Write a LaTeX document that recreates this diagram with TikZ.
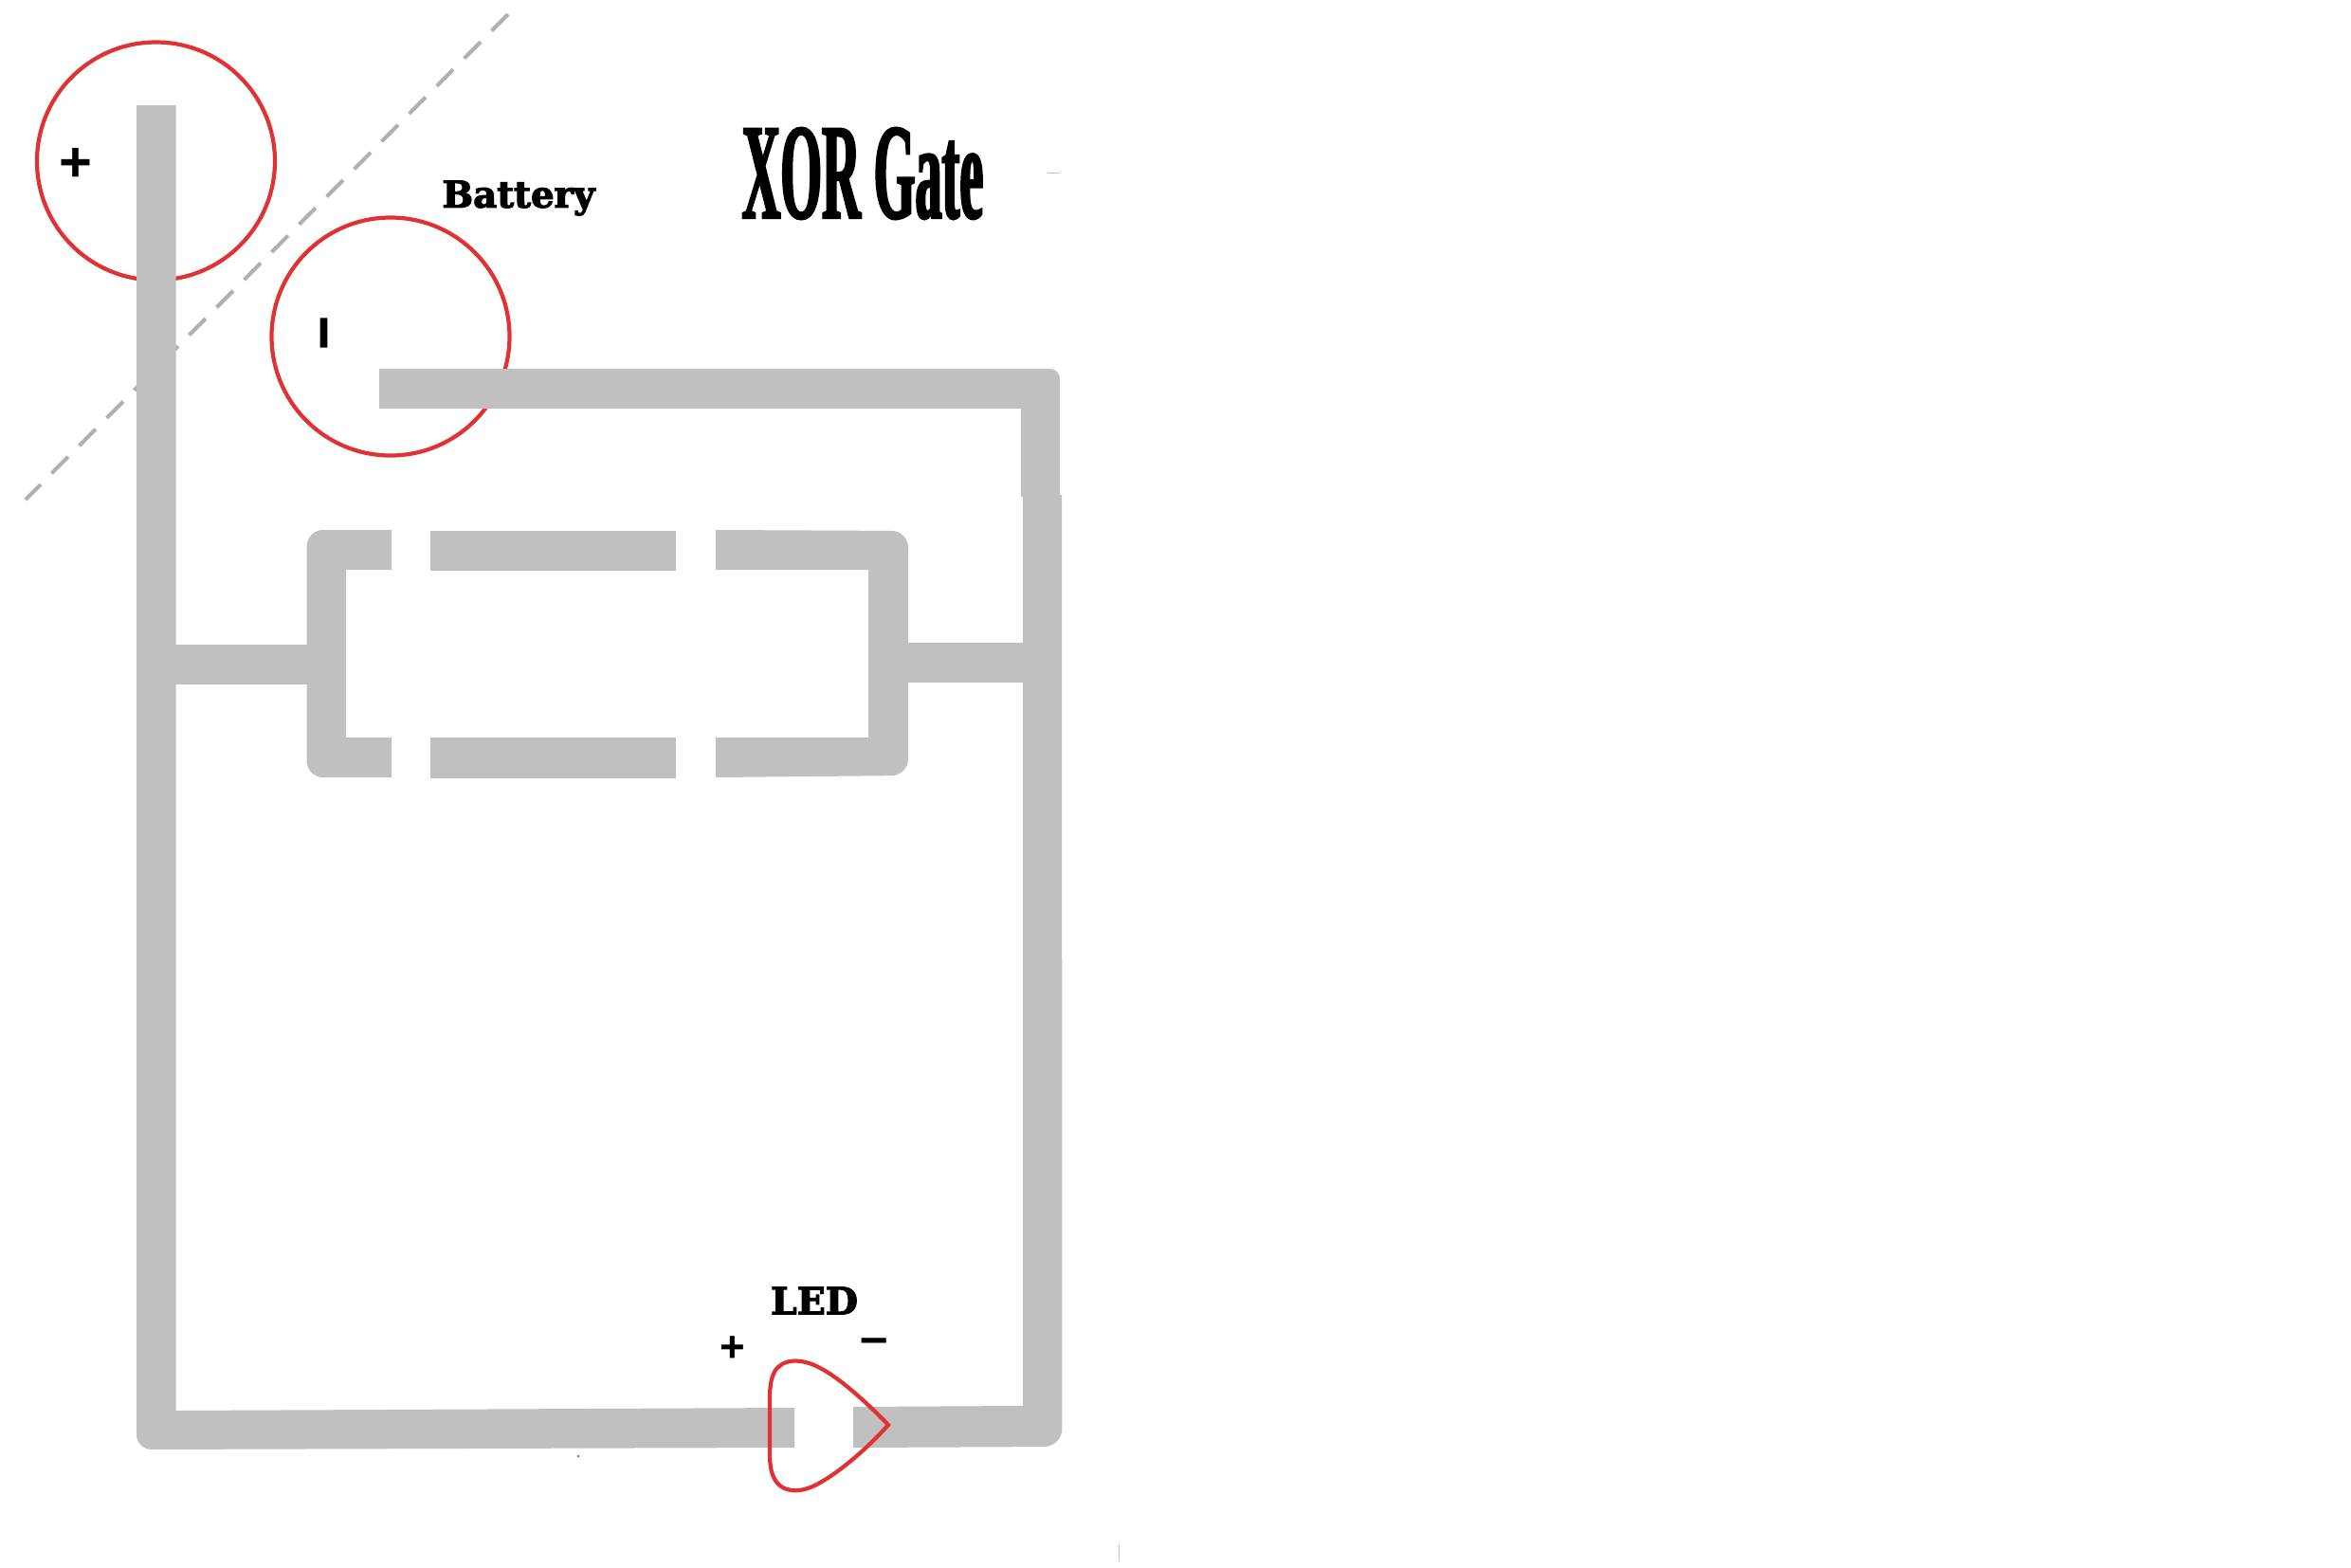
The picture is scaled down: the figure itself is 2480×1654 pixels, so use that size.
\documentclass[tikz,border=0pt]{standalone}
\usepackage{fontspec}
\setmainfont{DejaVu Serif}
\newfontfamily\slabfont[BoldFont={DejaVu Serif Bold},BoldFeatures={FakeBold=3}]{DejaVu Serif}
\newfontfamily\posterfont[FakeStretch=0.39,FakeBold=1.5]{Liberation Serif Bold}
\newfontfamily\signfont{Liberation Sans Bold}
\newfontfamily\signheavy[FakeBold=3]{Liberation Sans Bold}
\definecolor{wiregray}{HTML}{C0C0C0}
\definecolor{ringred}{HTML}{E03232}
\definecolor{dashgray}{HTML}{B0B0B0}
\tikzset{
  wire/.style={fill=wiregray,draw=none},
  ring/.style={draw=ringred,line width=1.2pt,fill=none},
  cut/.style={draw=dashgray,line width=1.15pt,dash pattern=on 7pt off 4.7pt},
  labeltext/.style={inner sep=0pt,text=black,anchor=center},
  speck/.style={draw=black!25,line width=0.2pt}
}
\begin{document}
\begin{tikzpicture}[x=0.01cm,y=-0.01cm]
\useasboundingbox[fill=white] (0,0) rectangle (2480,1654);
% diagonal dashed line
\draw[cut] (536,15) -- (27,527);
% battery terminals
\draw[ring] (164.5,170) circle [radius=125.5];
\draw[ring] (412,355) circle [radius=125.5];
% left vertical wire and bottom run to the LED
\fill[wire] (144,111) -- (185.5,111) -- (185.5,1488) -- (838,1485) -- (838,1527)
  [rounded corners=4.5pt] -- (144,1529) [sharp corners] -- cycle;
% top wire from the battery, right vertical upper part
\fill[wire] (400,389) [rounded corners=3pt] -- (1118,389) [sharp corners] -- (1118,524) -- (1077,524) -- (1077,431) -- (400,431) -- cycle;
% right vertical lower part and bottom run from the LED
\fill[wire] (1079,522) -- (1120,522) [rounded corners=5.5pt] -- (1120.5,1526) [sharp corners] -- (900,1527) -- (900,1484) -- (1079,1483) -- cycle;
% stubs
\fill[wire] (185,680) rectangle (330,722);
\fill[wire] (950,678) rectangle (1079,720);
% dashed box
\fill[wire] (413,559) [rounded corners=5pt] -- (323.5,559) -- (323.5,820) [sharp corners] -- (413,820) -- (413,778) -- (365,778) -- (365,601) -- (413,601) -- cycle;
\fill[wire] (454,560) rectangle (712.5,602);
\fill[wire] (454,778) rectangle (712.5,820.5);
\fill[wire] (755,559) [rounded corners=5pt] -- (958,560) -- (958,818) [sharp corners] -- (755,820) -- (755,778) -- (916,778) -- (916,601) -- (755,601) -- cycle;
% LED outline
\draw[ring,line join=miter] (937,1503)
  .. controls (915,1480) and (885,1453) .. (865,1443)
  .. controls (845,1432) and (825,1433) .. (817,1447)
  .. controls (811,1458) and (812,1475) .. (812,1490)
  -- (812,1518)
  .. controls (812,1533) and (811,1550) .. (817,1560)
  .. controls (825,1575) and (845,1576) .. (865,1564)
  .. controls (885,1553) and (915,1528) .. cycle;
% labels
\node[labeltext,font=\slabfont\bfseries\fontsize{11}{14}\selectfont] (battery) at (547,209) {Battery};
\node[labeltext,font=\slabfont\bfseries\fontsize{11.2}{14}\selectfont] (led) at (859,1372) {LED};
\node[labeltext,font=\posterfont\fontsize{41}{44}\selectfont] (title) at (910,183) {XOR Gate};
\node[labeltext,font=\signfont\fontsize{17}{18}\selectfont] (batplus) at (79.5,174) {+};
\node[labeltext,font=\signheavy\fontsize{17}{20}\selectfont,rotate=90] (batminus) at (348,351) {\char"2013};
\node[labeltext,font=\signfont\fontsize{13}{14}\selectfont] (ledplus) at (773,1423) {+};
\node[labeltext,font=\signfont\fontsize{15}{18}\selectfont] (ledminus) at (922,1420) {\char"2013};
% faint specks
\draw[speck] (1105,182) -- (1118,182);
\draw[speck] (1180,1630) -- (1180,1647);
\fill[black!50] (610,1536) circle [radius=1.5];
\end{tikzpicture}
\end{document}
